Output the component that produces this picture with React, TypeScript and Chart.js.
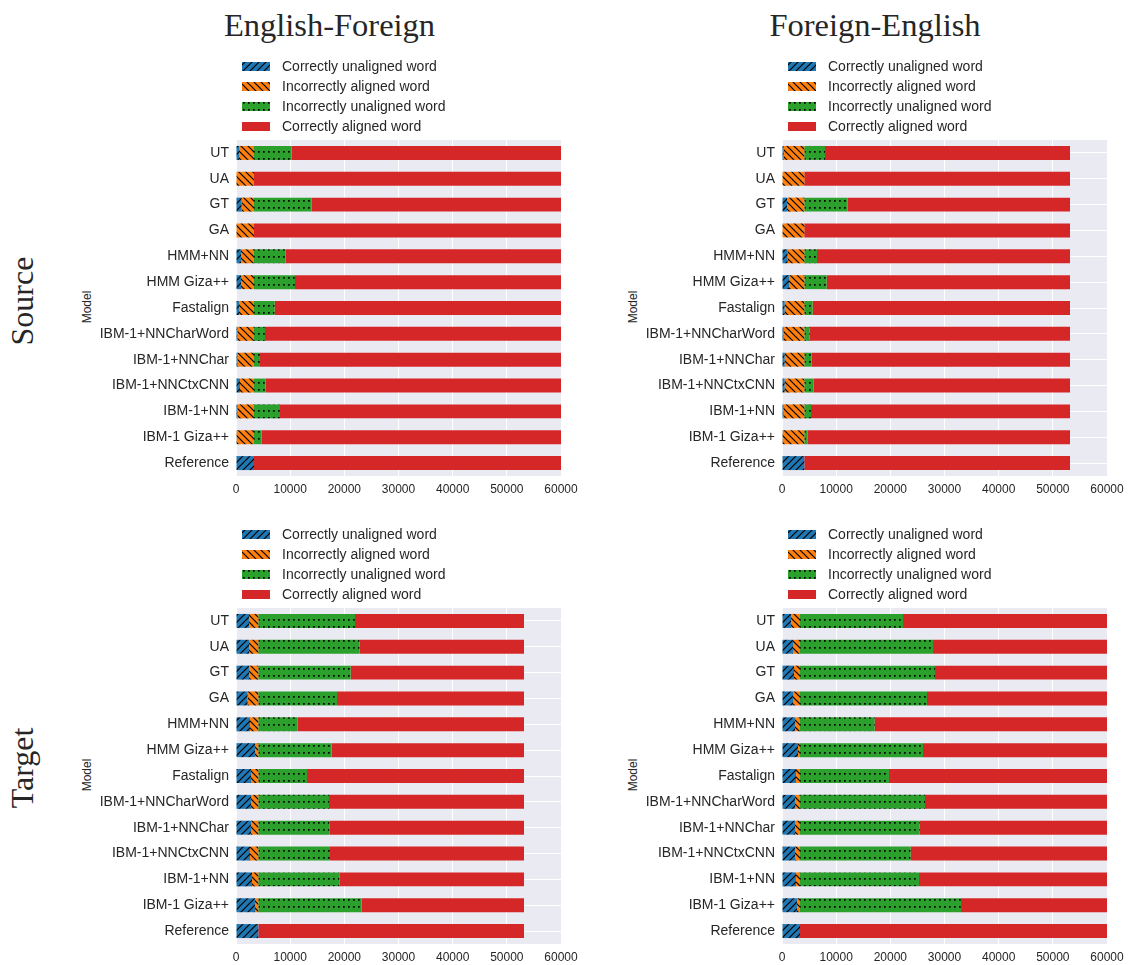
import React, { useEffect, useRef } from 'react';
import { Chart, registerables } from 'chart.js';

Chart.register(...registerables);

// ---------- data ----------
const models = [
  'UT', 'UA', 'GT', 'GA', 'HMM+NN', 'HMM Giza++', 'Fastalign',
  'IBM-1+NNCharWord', 'IBM-1+NNChar', 'IBM-1+NNCtxCNN', 'IBM-1+NN',
  'IBM-1 Giza++', 'Reference',
];

const seriesNames = [
  'Correctly unaligned word',
  'Incorrectly aligned word',
  'Incorrectly unaligned word',
  'Correctly aligned word',
];

const xTickValues = [0, 10000, 20000, 30000, 40000, 50000, 60000];

// English-Foreign, Source
const efSourceCorrectUnaligned = [550, 0, 1050, 0, 920, 920, 550, 250, 250, 740, 250, 120, 3320];
const efSourceIncorrectAligned = [2770, 3320, 2270, 3320, 2400, 2400, 2770, 3070, 3070, 2580, 3070, 3200, 0];
const efSourceIncorrectUnaligned = [6950, 0, 10650, 0, 5850, 7570, 3820, 2030, 1110, 2150, 4800, 1420, 0];
const efSourceCorrectAligned = [49730, 56680, 46030, 56680, 50830, 49110, 52860, 54650, 55570, 54530, 51880, 55260, 56680];

// Foreign-English, Source
const feSourceCorrectUnaligned = [310, 0, 920, 0, 1050, 1290, 490, 250, 490, 490, 250, 120, 4120];
const feSourceIncorrectAligned = [3810, 4120, 3200, 4120, 3070, 2830, 3630, 3870, 3630, 3630, 3870, 4000, 0];
const feSourceIncorrectUnaligned = [3820, 0, 8000, 0, 2340, 4130, 1540, 990, 1360, 1730, 1230, 620, 0];
const feSourceCorrectAligned = [45230, 49050, 41050, 49050, 46710, 44920, 47510, 48060, 47690, 47320, 47820, 48430, 49050];

// English-Foreign, Target
const efTargetCorrectUnaligned = [2400, 2400, 2400, 2150, 2590, 3510, 2770, 2770, 2770, 2590, 2950, 3510, 4120];
const efTargetIncorrectAligned = [1720, 1720, 1720, 1970, 1530, 610, 1350, 1350, 1350, 1530, 1170, 610, 0];
const efTargetIncorrectUnaligned = [17850, 18710, 17050, 14530, 7270, 13540, 8990, 13050, 13110, 13230, 14960, 19080, 0];
const efTargetCorrectAligned = [31200, 30340, 32000, 34520, 41780, 35510, 40060, 36000, 35940, 35820, 34090, 29970, 49050];

// Foreign-English, Target
const feTargetCorrectUnaligned = [1660, 2030, 2220, 2030, 2400, 2950, 2590, 2400, 2400, 2400, 2590, 2770, 3320];
const feTargetIncorrectAligned = [1660, 1290, 1100, 1290, 920, 370, 730, 920, 920, 920, 730, 550, 0];
const feTargetIncorrectUnaligned = [19020, 24560, 24930, 23450, 13790, 22710, 16430, 23080, 22100, 20430, 21970, 29730, 0];
const feTargetCorrectAligned = [37660, 32120, 31750, 33230, 42890, 33970, 40250, 33600, 34580, 36250, 34710, 26950, 56680];

// ---------- style ----------
const SANS = '"Liberation Sans", Arial, sans-serif';
const SERIF = '"Liberation Serif", "Times New Roman", serif';
const TEXT = '#262626';
const COLORS = ['#1f77b4', '#ff7f0e', '#2ca02c', '#d62728'];

function makePattern(kind: string, color: string): CanvasPattern | string {
  const tile = document.createElement('canvas');
  const w = kind === 'dots' ? 5 : 7;
  const h = 7;
  tile.width = w;
  tile.height = h;
  const c = tile.getContext('2d');
  if (!c) return color;
  c.fillStyle = color;
  c.fillRect(0, 0, w, h);
  c.strokeStyle = '#000';
  c.fillStyle = '#000';
  c.lineWidth = 1.2;
  if (kind === 'fwd') {
    c.beginPath();
    c.moveTo(0, h); c.lineTo(w, 0);
    c.moveTo(-2, 2); c.lineTo(2, -2);
    c.moveTo(w - 2, h + 2); c.lineTo(w + 2, h - 2);
    c.stroke();
  } else if (kind === 'back') {
    c.beginPath();
    c.moveTo(0, 0); c.lineTo(w, h);
    c.moveTo(-2, h - 2); c.lineTo(2, h + 2);
    c.moveTo(w - 2, -2); c.lineTo(w + 2, 2);
    c.stroke();
  } else if (kind === 'dots') {
    c.fillRect(2, 3, 1.7, 1.7);
  }
  const p = c.createPattern(tile, 'repeat');
  return p || color;
}

type PanelProps = {
  left: number;
  top: number;
  series: number[][];
};

const CW = 485;
const CH = 446;

function BarPanel({ left, top, series }: PanelProps) {
  const ref = useRef<HTMLCanvasElement | null>(null);
  useEffect(() => {
    const canvas = ref.current;
    if (!canvas) return;
    const fills = [
      makePattern('fwd', COLORS[0]),
      makePattern('back', COLORS[1]),
      makePattern('dots', COLORS[2]),
      COLORS[3],
    ];
    const bgPlugin = {
      id: 'bgArea',
      beforeDraw(chart: any) {
        const { ctx, chartArea: a } = chart;
        ctx.save();
        ctx.fillStyle = '#EAEAF2';
        ctx.fillRect(a.left, a.top, a.right - a.left, a.bottom - a.top);
        ctx.restore();
      },
    };
    const legendPlugin = {
      id: 'stackLegend',
      afterDraw(chart: any) {
        const { ctx, chartArea: a } = chart;
        ctx.save();
        ctx.font = `14px ${SANS}`;
        ctx.textBaseline = 'middle';
        ctx.textAlign = 'left';
        seriesNames.forEach((name, i) => {
          const cy = a.top - 73.5 + i * 20;
          ctx.fillStyle = fills[i] as any;
          ctx.fillRect(a.left + 6, cy - 4.5, 28, 9);
          ctx.fillStyle = TEXT;
          ctx.fillText(name, a.left + 46, cy + 0.5);
        });
        ctx.restore();
      },
    };
    const chart = new Chart(canvas, {
      type: 'bar',
      data: {
        labels: models,
        datasets: seriesNames.map((name, i) => ({
          label: name,
          data: series[i],
          backgroundColor: fills[i] as any,
          borderWidth: 0,
          barPercentage: 0.54,
          categoryPercentage: 1,
        })),
      },
      options: {
        indexAxis: 'y',
        responsive: false,
        animation: false,
        layout: { padding: { top: 90, right: 20, bottom: 0, left: 0 } },
        plugins: { legend: { display: false }, tooltip: { enabled: false } },
        scales: {
          x: {
            stacked: true,
            min: 0,
            max: 60000,
            border: { display: false },
            grid: { color: '#ffffff', lineWidth: 1, drawTicks: false },
            ticks: {
              font: { family: SANS, size: 12 },
              color: TEXT,
              padding: 6,
              maxRotation: 0,
              callback: (v: any) => String(v),
            },
            afterBuildTicks: (axis: any) => {
              axis.ticks = xTickValues.map((v) => ({ value: v }));
            },
            afterFit: (axis: any) => {
              axis.height = 20;
              axis.paddingLeft = 0;
              axis.paddingRight = 0;
            },
          },
          y: {
            stacked: true,
            border: { display: false },
            grid: { color: '#ffffff', lineWidth: 1, drawTicks: false, offset: false },
            ticks: {
              font: { family: SANS, size: 14 },
              color: TEXT,
              padding: 7,
              autoSkip: false,
            },
            afterFit: (axis: any) => {
              axis.width = 140;
              axis.paddingTop = 0;
              axis.paddingBottom = 0;
            },
          },
        },
      } as any,
      plugins: [bgPlugin, legendPlugin],
    });
    return () => chart.destroy();
  }, []);
  return (
    <canvas
      ref={ref}
      width={CW}
      height={CH}
      style={{ position: 'absolute', left, top, width: CW, height: CH }}
    />
  );
}

function Rotated({ text, cx, cy, size, family }: { text: string; cx: number; cy: number; size: number; family: string }) {
  return (
    <div
      style={{
        position: 'absolute',
        left: cx,
        top: cy,
        transform: 'translate(-50%, -50%) rotate(-90deg)',
        fontFamily: family,
        fontSize: size,
        lineHeight: `${size}px`,
        color: TEXT,
        whiteSpace: 'nowrap',
      }}
    >
      {text}
    </div>
  );
}

function Title({ text, cx }: { text: string; cx: number }) {
  return (
    <div
      style={{
        position: 'absolute',
        left: cx - 200,
        top: 8.8,
        width: 400,
        textAlign: 'center',
        fontFamily: SERIF,
        fontSize: 32.5,
        lineHeight: '32.5px',
        color: TEXT,
        whiteSpace: 'nowrap',
      }}
    >
      {text}
    </div>
  );
}

export default function App() {
  return (
    <div
      style={{
        position: 'absolute',
        left: 0,
        top: 0,
        width: 1129,
        height: 965,
        overflow: 'hidden',
        background: '#ffffff',
      }}
    >
      <Title text="English-Foreign" cx={329.5} />
      <Title text="Foreign-English" cx={875} />
      <Rotated text="Source" cx={22.2} cy={300.5} size={32} family={SERIF} />
      <Rotated text="Target" cx={22.2} cy={768} size={32} family={SERIF} />
      <Rotated text="Model" cx={86.8} cy={306.5} size={12} family={SANS} />
      <Rotated text="Model" cx={632.8} cy={306.5} size={12} family={SANS} />
      <Rotated text="Model" cx={86.8} cy={774.5} size={12} family={SANS} />
      <Rotated text="Model" cx={632.8} cy={774.5} size={12} family={SANS} />
      <BarPanel
        left={96}
        top={50}
        series={[efSourceCorrectUnaligned, efSourceIncorrectAligned, efSourceIncorrectUnaligned, efSourceCorrectAligned]}
      />
      <BarPanel
        left={642}
        top={50}
        series={[feSourceCorrectUnaligned, feSourceIncorrectAligned, feSourceIncorrectUnaligned, feSourceCorrectAligned]}
      />
      <BarPanel
        left={96}
        top={518}
        series={[efTargetCorrectUnaligned, efTargetIncorrectAligned, efTargetIncorrectUnaligned, efTargetCorrectAligned]}
      />
      <BarPanel
        left={642}
        top={518}
        series={[feTargetCorrectUnaligned, feTargetIncorrectAligned, feTargetIncorrectUnaligned, feTargetCorrectAligned]}
      />
    </div>
  );
}
